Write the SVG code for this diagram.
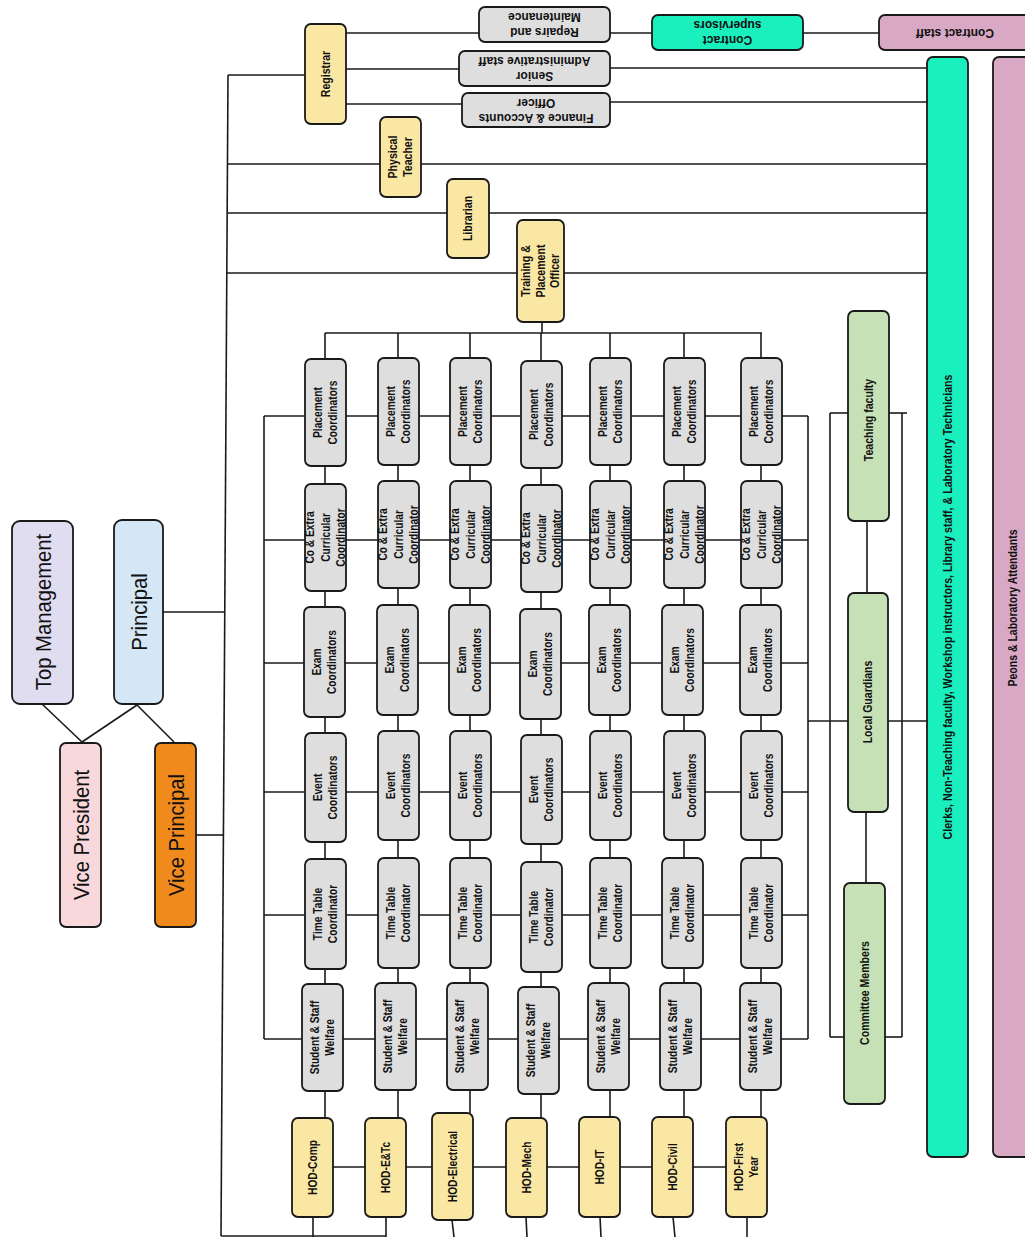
<svg xmlns="http://www.w3.org/2000/svg" width="1025" height="1237" viewBox="0 0 1025 1237">
<style>
.bg{fill:#ffffff}
.n rect{stroke:#1a1a1a;stroke-width:1.8}
.gray rect{fill:#dedede}
.yel rect{fill:#fbe7a4}
.grn rect{fill:#c6e1b5}
.teal rect{fill:#1af0bd}
.pink rect{fill:#d8a8c4}
.t{font-family:"Liberation Sans",Arial,sans-serif;font-weight:bold;font-size:12px;fill:#111;text-anchor:middle}
.big{font-family:"Liberation Sans",Arial,sans-serif;font-size:22px;fill:#111;text-anchor:middle}
#connectors line,#connectors path{stroke:#1a1a1a;stroke-width:1.6;fill:none}
</style>
<rect class="bg" x="0" y="0" width="1025" height="1237"/>

<g id="connectors">
<line x1="42" y1="704" x2="82" y2="742"/>
<line x1="137" y1="705" x2="82" y2="742"/>
<line x1="137" y1="705" x2="174" y2="742"/>
<line x1="163" y1="612" x2="225" y2="612"/>
<line x1="196" y1="835" x2="223" y2="835"/>
<line x1="228" y1="75" x2="221" y2="1236"/>
<line x1="228" y1="75" x2="305" y2="75"/>
<line x1="346" y1="33" x2="479" y2="33"/>
<line x1="346" y1="69" x2="459" y2="69"/>
<line x1="346" y1="104" x2="462" y2="104"/>
<line x1="610" y1="33" x2="652" y2="33"/>
<line x1="803" y1="33" x2="879" y2="33"/>
<line x1="610" y1="68" x2="927" y2="68"/>
<line x1="610" y1="102" x2="927" y2="102"/>
<line x1="228" y1="164" x2="927" y2="164"/>
<line x1="227" y1="213" x2="927" y2="213"/>
<line x1="227" y1="273" x2="927" y2="273"/>
<line x1="542" y1="322" x2="542" y2="333"/>
<line x1="325" y1="333" x2="762" y2="333"/>
<line x1="325" y1="333" x2="325" y2="1118"/>
<line x1="398" y1="333" x2="398" y2="1118"/>
<line x1="470" y1="333" x2="470" y2="1113"/>
<line x1="541" y1="333" x2="541" y2="1118"/>
<line x1="610" y1="333" x2="610" y2="1117"/>
<line x1="684" y1="333" x2="684" y2="1117"/>
<line x1="761" y1="333" x2="761" y2="1117"/>
<line x1="264" y1="416" x2="808" y2="416"/>
<line x1="264" y1="540" x2="808" y2="540"/>
<line x1="264" y1="663" x2="808" y2="663"/>
<line x1="264" y1="792" x2="808" y2="792"/>
<line x1="264" y1="915" x2="808" y2="915"/>
<line x1="264" y1="1039" x2="808" y2="1039"/>
<line x1="264" y1="416" x2="264" y2="1039"/>
<line x1="808" y1="416" x2="808" y2="1039"/>
<line x1="808" y1="721" x2="848" y2="721"/>
<line x1="888" y1="721" x2="927" y2="721"/>
<line x1="830" y1="413" x2="830" y2="1037"/>
<line x1="902" y1="413" x2="902" y2="1037"/>
<line x1="830" y1="413" x2="848" y2="413"/>
<line x1="889" y1="413" x2="907" y2="413"/>
<line x1="830" y1="1037" x2="844" y2="1037"/>
<line x1="885" y1="1037" x2="902" y2="1037"/>
<line x1="867" y1="521" x2="867" y2="593"/>
<line x1="866" y1="812" x2="866" y2="883"/>
<line x1="312" y1="1167" x2="746" y2="1167"/>
<line x1="313" y1="1217" x2="313" y2="1237"/>
<line x1="386" y1="1217" x2="386" y2="1237"/>
<line x1="452" y1="1220" x2="454" y2="1237"/>
<line x1="526" y1="1217" x2="527" y2="1237"/>
<line x1="600" y1="1217" x2="601" y2="1237"/>
<line x1="673" y1="1217" x2="675" y2="1237"/>
<line x1="747" y1="1217" x2="747" y2="1237"/>
<line x1="221" y1="1236" x2="386" y2="1236"/>
</g>

<g id="top-management" class="n"><rect x="12" y="521" width="61" height="183" rx="8" fill="#e1ddf1"/><text class="big" transform="translate(42.5,612) rotate(-90) scale(0.92,1)" y="8">Top Management</text></g>
<g id="principal" class="n"><rect x="114" y="520" width="49" height="184" rx="8" fill="#d5e6f5"/><text class="big" transform="translate(138.5,612) rotate(-90) scale(0.92,1)" y="8">Principal</text></g>
<g id="vice-president" class="n"><rect x="60" y="743" width="41" height="184" rx="6" fill="#f8d8db"/><text class="big" transform="translate(80.5,835) rotate(-90) scale(0.92,1)" y="8">Vice President</text></g>
<g id="vice-principal" class="n"><rect x="155" y="743" width="41" height="184" rx="6" fill="#f18a1d"/><text class="big" transform="translate(175.5,835) rotate(-90) scale(0.92,1)" y="8">Vice Principal</text></g>

<g id="registrar" class="n yel"><rect x="305" y="24" width="41" height="100" rx="6"/><text class="t" transform="translate(325.5,74) rotate(-90) scale(0.88,1)" y="4">Registrar</text></g>
<g id="repairs" class="n gray"><rect x="479" y="7" width="131" height="35" rx="6"/><text class="t" transform="translate(544.5,24.5) rotate(180)"><tspan x="0" y="-3.5">Repairs and</tspan><tspan x="0" y="11.5">Maintenance</tspan></text></g>
<g id="senior-admin" class="n gray"><rect x="459" y="51" width="151" height="35" rx="6"/><text class="t" transform="translate(534.5,68.5) rotate(180)"><tspan x="0" y="-3.5">Senior</tspan><tspan x="0" y="11.5">Administrative staff</tspan></text></g>
<g id="finance" class="n gray"><rect x="462" y="93" width="148" height="34" rx="6"/><text class="t" transform="translate(536,110) rotate(180)"><tspan x="0" y="-3.5">Finance &amp; Accounts</tspan><tspan x="0" y="11.5">Officer</tspan></text></g>
<g id="contract-supervisors" class="n teal"><rect x="652" y="15" width="151" height="35" rx="6"/><text class="t" transform="translate(727.5,32.5) rotate(180)"><tspan x="0" y="-3.5">Contract</tspan><tspan x="0" y="11.5">supervisors</tspan></text></g>
<g id="contract-staff" class="n pink"><rect x="879" y="15" width="165" height="35" rx="6"/><text class="t" transform="translate(955,32.5) rotate(180)" y="4">Contract staff</text></g>

<g id="physical-teacher" class="n yel"><rect x="380" y="117" width="41" height="80" rx="6"/><text class="t" transform="translate(400.5,157) rotate(-90) scale(0.88,1)"><tspan x="0" y="-4">Physical</tspan><tspan x="0" y="12">Teacher</tspan></text></g>
<g id="librarian" class="n yel"><rect x="447" y="179" width="42" height="79" rx="6"/><text class="t" transform="translate(468,218.5) rotate(-90) scale(0.88,1)" y="4">Librarian</text></g>
<g id="training-placement" class="n yel"><rect x="517" y="220" width="47" height="102" rx="6"/><text class="t" transform="translate(540.5,271) rotate(-90) scale(0.88,1)"><tspan x="0" y="-11">Training &amp;</tspan><tspan x="0" y="4">Placement</tspan><tspan x="0" y="19">Officer</tspan></text></g>

<g id="staff-bar" class="n teal"><rect x="927" y="57" width="41" height="1100" rx="6"/><text class="t" transform="translate(948,607) rotate(-90)" y="4" textLength="465" lengthAdjust="spacingAndGlyphs">Clerks, Non-Teaching faculty, Workshop instructors, Library staff,  &amp; Laboratory Technicians</text></g>
<g id="peons-bar" class="n pink"><rect x="993" y="57" width="50" height="1100" rx="6"/><text class="t" transform="translate(1013,608) rotate(-90)" y="4" textLength="157" lengthAdjust="spacingAndGlyphs">Peons &amp; Laboratory Attendants</text></g>

<g id="teaching-faculty" class="n grn"><rect x="848" y="311" width="41" height="210" rx="6"/><text class="t" transform="translate(868.5,420) rotate(-90) scale(0.88,1)" y="4">Teaching faculty</text></g>
<g id="local-guardians" class="n grn"><rect x="848" y="593" width="40" height="219" rx="6"/><text class="t" transform="translate(868,702) rotate(-90) scale(0.88,1)" y="4">Local Guardians</text></g>
<g id="committee-members" class="n grn"><rect x="844" y="883" width="41" height="221" rx="6"/><text class="t" transform="translate(864.5,993) rotate(-90) scale(0.88,1)" y="4">Committee Members</text></g>

<!-- Placement Coordinators row -->
<g id="pc1" class="n gray"><rect x="305" y="359" width="41" height="107" rx="6"/><text class="t" transform="translate(325.5,412.5) rotate(-90) scale(0.85,1)"><tspan x="0" y="-4">Placement</tspan><tspan x="0" y="12">Coordinators</tspan></text></g>
<g id="pc2" class="n gray"><rect x="378" y="358" width="41" height="107" rx="6"/><text class="t" transform="translate(398.5,411.5) rotate(-90) scale(0.85,1)"><tspan x="0" y="-4">Placement</tspan><tspan x="0" y="12">Coordinators</tspan></text></g>
<g id="pc3" class="n gray"><rect x="450" y="358" width="41" height="107" rx="6"/><text class="t" transform="translate(470.5,411.5) rotate(-90) scale(0.85,1)"><tspan x="0" y="-4">Placement</tspan><tspan x="0" y="12">Coordinators</tspan></text></g>
<g id="pc4" class="n gray"><rect x="521" y="361" width="41" height="107" rx="6"/><text class="t" transform="translate(541.5,414.5) rotate(-90) scale(0.85,1)"><tspan x="0" y="-4">Placement</tspan><tspan x="0" y="12">Coordinators</tspan></text></g>
<g id="pc5" class="n gray"><rect x="590" y="358" width="41" height="107" rx="6"/><text class="t" transform="translate(610.5,411.5) rotate(-90) scale(0.85,1)"><tspan x="0" y="-4">Placement</tspan><tspan x="0" y="12">Coordinators</tspan></text></g>
<g id="pc6" class="n gray"><rect x="664" y="358" width="41" height="107" rx="6"/><text class="t" transform="translate(684.5,411.5) rotate(-90) scale(0.85,1)"><tspan x="0" y="-4">Placement</tspan><tspan x="0" y="12">Coordinators</tspan></text></g>
<g id="pc7" class="n gray"><rect x="741" y="358" width="41" height="107" rx="6"/><text class="t" transform="translate(761.5,411.5) rotate(-90) scale(0.85,1)"><tspan x="0" y="-4">Placement</tspan><tspan x="0" y="12">Coordinators</tspan></text></g>

<!-- Co & Extra Curricular row -->
<g id="ce1" class="n gray"><rect x="305" y="484" width="41" height="107" rx="6"/><text class="t" transform="translate(325.5,537.5) rotate(-90) scale(0.85,1)"><tspan x="0" y="-12">Co &amp; Extra</tspan><tspan x="0" y="4">Curricular</tspan><tspan x="0" y="20">Coordinator</tspan></text></g>
<g id="ce2" class="n gray"><rect x="378" y="481" width="41" height="107" rx="6"/><text class="t" transform="translate(398.5,534.5) rotate(-90) scale(0.85,1)"><tspan x="0" y="-12">Co &amp; Extra</tspan><tspan x="0" y="4">Curricular</tspan><tspan x="0" y="20">Coordinator</tspan></text></g>
<g id="ce3" class="n gray"><rect x="450" y="481" width="41" height="107" rx="6"/><text class="t" transform="translate(470.5,534.5) rotate(-90) scale(0.85,1)"><tspan x="0" y="-12">Co &amp; Extra</tspan><tspan x="0" y="4">Curricular</tspan><tspan x="0" y="20">Coordinator</tspan></text></g>
<g id="ce4" class="n gray"><rect x="521" y="485" width="41" height="107" rx="6"/><text class="t" transform="translate(541.5,538.5) rotate(-90) scale(0.85,1)"><tspan x="0" y="-12">Co &amp; Extra</tspan><tspan x="0" y="4">Curricular</tspan><tspan x="0" y="20">Coordinator</tspan></text></g>
<g id="ce5" class="n gray"><rect x="590" y="481" width="41" height="107" rx="6"/><text class="t" transform="translate(610.5,534.5) rotate(-90) scale(0.85,1)"><tspan x="0" y="-12">Co &amp; Extra</tspan><tspan x="0" y="4">Curricular</tspan><tspan x="0" y="20">Coordinator</tspan></text></g>
<g id="ce6" class="n gray"><rect x="664" y="481" width="41" height="107" rx="6"/><text class="t" transform="translate(684.5,534.5) rotate(-90) scale(0.85,1)"><tspan x="0" y="-12">Co &amp; Extra</tspan><tspan x="0" y="4">Curricular</tspan><tspan x="0" y="20">Coordinator</tspan></text></g>
<g id="ce7" class="n gray"><rect x="741" y="481" width="41" height="107" rx="6"/><text class="t" transform="translate(761.5,534.5) rotate(-90) scale(0.85,1)"><tspan x="0" y="-12">Co &amp; Extra</tspan><tspan x="0" y="4">Curricular</tspan><tspan x="0" y="20">Coordinator</tspan></text></g>

<!-- Exam row -->
<g id="ex1" class="n gray"><rect x="304" y="607" width="41" height="110" rx="6"/><text class="t" transform="translate(324.5,662) rotate(-90) scale(0.85,1)"><tspan x="0" y="-4">Exam</tspan><tspan x="0" y="12">Coordinators</tspan></text></g>
<g id="ex2" class="n gray"><rect x="377" y="605" width="41" height="110" rx="6"/><text class="t" transform="translate(397.5,660) rotate(-90) scale(0.85,1)"><tspan x="0" y="-4">Exam</tspan><tspan x="0" y="12">Coordinators</tspan></text></g>
<g id="ex3" class="n gray"><rect x="449" y="605" width="41" height="110" rx="6"/><text class="t" transform="translate(469.5,660) rotate(-90) scale(0.85,1)"><tspan x="0" y="-4">Exam</tspan><tspan x="0" y="12">Coordinators</tspan></text></g>
<g id="ex4" class="n gray"><rect x="520" y="609" width="41" height="110" rx="6"/><text class="t" transform="translate(540.5,664) rotate(-90) scale(0.85,1)"><tspan x="0" y="-4">Exam</tspan><tspan x="0" y="12">Coordinators</tspan></text></g>
<g id="ex5" class="n gray"><rect x="589" y="605" width="41" height="110" rx="6"/><text class="t" transform="translate(609.5,660) rotate(-90) scale(0.85,1)"><tspan x="0" y="-4">Exam</tspan><tspan x="0" y="12">Coordinators</tspan></text></g>
<g id="ex6" class="n gray"><rect x="662" y="605" width="41" height="110" rx="6"/><text class="t" transform="translate(682.5,660) rotate(-90) scale(0.85,1)"><tspan x="0" y="-4">Exam</tspan><tspan x="0" y="12">Coordinators</tspan></text></g>
<g id="ex7" class="n gray"><rect x="740" y="605" width="41" height="110" rx="6"/><text class="t" transform="translate(760.5,660) rotate(-90) scale(0.85,1)"><tspan x="0" y="-4">Exam</tspan><tspan x="0" y="12">Coordinators</tspan></text></g>

<!-- Event row -->
<g id="ev1" class="n gray"><rect x="305" y="733" width="41" height="109" rx="6"/><text class="t" transform="translate(325.5,787.5) rotate(-90) scale(0.85,1)"><tspan x="0" y="-4">Event</tspan><tspan x="0" y="12">Coordinators</tspan></text></g>
<g id="ev2" class="n gray"><rect x="378" y="731" width="41" height="109" rx="6"/><text class="t" transform="translate(398.5,785.5) rotate(-90) scale(0.85,1)"><tspan x="0" y="-4">Event</tspan><tspan x="0" y="12">Coordinators</tspan></text></g>
<g id="ev3" class="n gray"><rect x="450" y="731" width="41" height="109" rx="6"/><text class="t" transform="translate(470.5,785.5) rotate(-90) scale(0.85,1)"><tspan x="0" y="-4">Event</tspan><tspan x="0" y="12">Coordinators</tspan></text></g>
<g id="ev4" class="n gray"><rect x="521" y="735" width="41" height="109" rx="6"/><text class="t" transform="translate(541.5,789.5) rotate(-90) scale(0.85,1)"><tspan x="0" y="-4">Event</tspan><tspan x="0" y="12">Coordinators</tspan></text></g>
<g id="ev5" class="n gray"><rect x="590" y="731" width="41" height="109" rx="6"/><text class="t" transform="translate(610.5,785.5) rotate(-90) scale(0.85,1)"><tspan x="0" y="-4">Event</tspan><tspan x="0" y="12">Coordinators</tspan></text></g>
<g id="ev6" class="n gray"><rect x="664" y="731" width="41" height="109" rx="6"/><text class="t" transform="translate(684.5,785.5) rotate(-90) scale(0.85,1)"><tspan x="0" y="-4">Event</tspan><tspan x="0" y="12">Coordinators</tspan></text></g>
<g id="ev7" class="n gray"><rect x="741" y="731" width="41" height="109" rx="6"/><text class="t" transform="translate(761.5,785.5) rotate(-90) scale(0.85,1)"><tspan x="0" y="-4">Event</tspan><tspan x="0" y="12">Coordinators</tspan></text></g>

<!-- Time Table row -->
<g id="tt1" class="n gray"><rect x="305" y="859" width="41" height="110" rx="6"/><text class="t" transform="translate(325.5,914) rotate(-90) scale(0.85,1)"><tspan x="0" y="-4">Time Table</tspan><tspan x="0" y="12">Coordinator</tspan></text></g>
<g id="tt2" class="n gray"><rect x="378" y="858" width="41" height="110" rx="6"/><text class="t" transform="translate(398.5,913) rotate(-90) scale(0.85,1)"><tspan x="0" y="-4">Time Table</tspan><tspan x="0" y="12">Coordinator</tspan></text></g>
<g id="tt3" class="n gray"><rect x="450" y="858" width="41" height="110" rx="6"/><text class="t" transform="translate(470.5,913) rotate(-90) scale(0.85,1)"><tspan x="0" y="-4">Time Table</tspan><tspan x="0" y="12">Coordinator</tspan></text></g>
<g id="tt4" class="n gray"><rect x="521" y="862" width="41" height="110" rx="6"/><text class="t" transform="translate(541.5,917) rotate(-90) scale(0.85,1)"><tspan x="0" y="-4">Time Table</tspan><tspan x="0" y="12">Coordinator</tspan></text></g>
<g id="tt5" class="n gray"><rect x="590" y="858" width="41" height="110" rx="6"/><text class="t" transform="translate(610.5,913) rotate(-90) scale(0.85,1)"><tspan x="0" y="-4">Time Table</tspan><tspan x="0" y="12">Coordinator</tspan></text></g>
<g id="tt6" class="n gray"><rect x="662" y="858" width="41" height="110" rx="6"/><text class="t" transform="translate(682.5,913) rotate(-90) scale(0.85,1)"><tspan x="0" y="-4">Time Table</tspan><tspan x="0" y="12">Coordinator</tspan></text></g>
<g id="tt7" class="n gray"><rect x="741" y="858" width="41" height="110" rx="6"/><text class="t" transform="translate(761.5,913) rotate(-90) scale(0.85,1)"><tspan x="0" y="-4">Time Table</tspan><tspan x="0" y="12">Coordinator</tspan></text></g>

<!-- Welfare row -->
<g id="sw1" class="n gray"><rect x="302" y="984" width="41" height="107" rx="6"/><text class="t" transform="translate(322.5,1037.5) rotate(-90) scale(0.85,1)"><tspan x="0" y="-4">Student &amp; Staff</tspan><tspan x="0" y="12">Welfare</tspan></text></g>
<g id="sw2" class="n gray"><rect x="375" y="983" width="41" height="107" rx="6"/><text class="t" transform="translate(395.5,1036.5) rotate(-90) scale(0.85,1)"><tspan x="0" y="-4">Student &amp; Staff</tspan><tspan x="0" y="12">Welfare</tspan></text></g>
<g id="sw3" class="n gray"><rect x="447" y="983" width="41" height="107" rx="6"/><text class="t" transform="translate(467.5,1036.5) rotate(-90) scale(0.85,1)"><tspan x="0" y="-4">Student &amp; Staff</tspan><tspan x="0" y="12">Welfare</tspan></text></g>
<g id="sw4" class="n gray"><rect x="518" y="987" width="41" height="107" rx="6"/><text class="t" transform="translate(538.5,1040.5) rotate(-90) scale(0.85,1)"><tspan x="0" y="-4">Student &amp; Staff</tspan><tspan x="0" y="12">Welfare</tspan></text></g>
<g id="sw5" class="n gray"><rect x="588" y="983" width="41" height="107" rx="6"/><text class="t" transform="translate(608.5,1036.5) rotate(-90) scale(0.85,1)"><tspan x="0" y="-4">Student &amp; Staff</tspan><tspan x="0" y="12">Welfare</tspan></text></g>
<g id="sw6" class="n gray"><rect x="660" y="983" width="41" height="107" rx="6"/><text class="t" transform="translate(680.5,1036.5) rotate(-90) scale(0.85,1)"><tspan x="0" y="-4">Student &amp; Staff</tspan><tspan x="0" y="12">Welfare</tspan></text></g>
<g id="sw7" class="n gray"><rect x="740" y="983" width="41" height="107" rx="6"/><text class="t" transform="translate(760.5,1036.5) rotate(-90) scale(0.85,1)"><tspan x="0" y="-4">Student &amp; Staff</tspan><tspan x="0" y="12">Welfare</tspan></text></g>

<!-- HODs -->
<g id="hod-comp" class="n yel"><rect x="292" y="1118" width="41" height="99" rx="6"/><text class="t" transform="translate(312.5,1167.5) rotate(-90) scale(0.85,1)" y="4">HOD-Comp</text></g>
<g id="hod-entc" class="n yel"><rect x="365" y="1118" width="41" height="99" rx="6"/><text class="t" transform="translate(385.5,1167.5) rotate(-90) scale(0.85,1)" y="4">HOD-E&amp;Tc</text></g>
<g id="hod-electrical" class="n yel"><rect x="432" y="1113" width="41" height="107" rx="6"/><text class="t" transform="translate(452.5,1166.5) rotate(-90) scale(0.85,1)" y="4">HOD-Electrical</text></g>
<g id="hod-mech" class="n yel"><rect x="506" y="1118" width="41" height="99" rx="6"/><text class="t" transform="translate(526.5,1167.5) rotate(-90) scale(0.85,1)" y="4">HOD-Mech</text></g>
<g id="hod-it" class="n yel"><rect x="579" y="1117" width="41" height="100" rx="6"/><text class="t" transform="translate(599.5,1167) rotate(-90) scale(0.85,1)" y="4">HOD-IT</text></g>
<g id="hod-civil" class="n yel"><rect x="652" y="1117" width="41" height="100" rx="6"/><text class="t" transform="translate(672.5,1167) rotate(-90) scale(0.85,1)" y="4">HOD-Civil</text></g>
<g id="hod-first-year" class="n yel"><rect x="726" y="1117" width="41" height="100" rx="6"/><text class="t" transform="translate(746.5,1167) rotate(-90) scale(0.85,1)"><tspan x="0" y="-4">HOD-First</tspan><tspan x="0" y="12">Year</tspan></text></g>
</svg>
